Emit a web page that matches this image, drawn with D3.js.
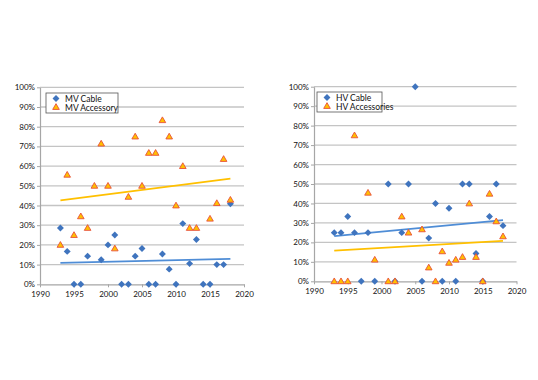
<!DOCTYPE html>
<html>
<head>
    <title>Cable failures</title>
    <script src="https://d3js.org/d3.v7.min.js"></script>
    <style>
        body { margin: 0; background: #fff; }
        text { font-family: Lato, "Open Sans", sans-serif; fill: #111; }
    </style>
</head>
<body>
<svg width="538" height="380"></svg>
<script>
    // one value per year, null where there is no point
    const years = [1993, 1994, 1995, 1996, 1997, 1998, 1999, 2000, 2001, 2002, 2003, 2004, 2005,
                   2006, 2007, 2008, 2009, 2010, 2011, 2012, 2013, 2014, 2015, 2016, 2017, 2018];

    const mvCable = [28.6, 16.7, 0, 0, 14.3, null, 12.5, 20, 25, 0, 0, 14.3, 18.2,
                     0, 0, 15.4, 7.7, 0, 30.8, 10.5, 22.7, 0, 0, 10, 10, 40.9];
    const mvAccessory = [20, 55.6, 25, 34.5, 28.6, 50, 71.4, 50, 18.2, null, 44.4, 75, 50,
                         66.7, 66.7, 83.3, 75, 40, 60, 28.6, 28.6, null, 33.3, 41.2, 63.6, 42.9];

    const hvCable = [25, 25, 33.3, 25, 0, 25, 0, null, 50, 0, 25, 50, 100,
                     0, 22.2, 40, 0, 37.5, 0, 50, 50, 14.3, 0, 33.3, 50, 28.6];
    const hvAccessories = [0, 0, 0, 75, null, 45.5, 11.1, null, 0, 0, 33.3, 25, null,
                           26.7, 7.1, 0, 15.4, 9.5, 11.1, 12.5, 40, 12.5, 0, 45, 30.8, 23.1];

    const xTicks = [1990, 1995, 2000, 2005, 2010, 2015, 2020];
    const yTicks = [0, 0.1, 0.2, 0.3, 0.4, 0.5, 0.6, 0.7, 0.8, 0.9, 1];

    const blue = "#3F74BE";
    const blueLine = "#4F8DD6";
    const orange = "#FFC000";
    const orangeEdge = "#E8503A";
    const orangeLine = "#FFC000";

    const svg = d3.select("svg");

    function points(vals) {
        return years.map((y, i) => ({year: y, v: vals[i]}))
            .filter(d => d.v !== null)
            .map(d => ({year: d.year, v: d.v / 100}));
    }

    // least squares fit, drawn over the range of the data like Excel does
    function trend(pts) {
        const mx = d3.mean(pts, d => d.year), my = d3.mean(pts, d => d.v);
        const b = d3.sum(pts, d => (d.year - mx) * (d.v - my)) / d3.sum(pts, d => (d.year - mx) ** 2);
        const a = my - b * mx;
        const x0 = d3.min(pts, d => d.year), x1 = d3.max(pts, d => d.year);
        return [{year: x0, v: a + b * x0}, {year: x1, v: a + b * x1}];
    }

    function drawChart(opt) {
        const x = d3.scaleLinear().domain([1990, 2020]).range(opt.xr);
        const y = d3.scaleLinear().domain([0, 1]).range(opt.yr);
        const g = svg.append("g");

        // gridlines
        g.selectAll(".grid").data(yTicks.slice(1)).enter().append("line")
            .attr("x1", opt.xr[0]).attr("x2", opt.xr[1])
            .attr("y1", d => y(d)).attr("y2", d => y(d))
            .attr("stroke", "#C4C4C4").attr("stroke-width", 1.3);

        const xAxis = g.append("g").attr("transform", `translate(0,${opt.yr[0]})`)
            .call(d3.axisBottom(x).tickValues(xTicks).tickFormat(d3.format("d")).tickSize(3).tickSizeOuter(0));
        const yAxis = g.append("g").attr("transform", `translate(${opt.xr[0]},0)`)
            .call(d3.axisLeft(y).tickValues(yTicks).tickFormat(d3.format(".0%")).tickSize(3).tickSizeOuter(0));
        [xAxis, yAxis].forEach(ax => {
            ax.select(".domain").attr("stroke", "#A6A6A6").attr("stroke-width", 1.2);
            ax.selectAll(".tick line").attr("stroke", "#A6A6A6");
            ax.selectAll("text").style("font-size", "8px").attr("fill", "#111");
        });
        xAxis.selectAll("text").attr("dy", "0.9em");
        yAxis.selectAll("text").attr("x", -5);

        const cable = points(opt.cable), acc = points(opt.acc);

        const line = d3.line().x(d => x(d.year)).y(d => y(d.v));
        g.append("path").attr("d", line(trend(cable))).attr("fill", "none")
            .attr("stroke", blueLine).attr("stroke-width", 1.8);
        g.append("path").attr("d", line(trend(acc))).attr("fill", "none")
            .attr("stroke", orangeLine).attr("stroke-width", 1.8);

        const diamond = d3.symbol().type(d3.symbolSquare).size(24);
        const tri = d3.symbol().type(d3.symbolTriangle).size(19);

        g.selectAll(".c").data(cable).enter().append("path")
            .attr("d", diamond)
            .attr("transform", d => `translate(${x(d.year)},${y(d.v)}) rotate(45)`)
            .attr("fill", blue);
        g.selectAll(".a").data(acc).enter().append("path")
            .attr("d", tri)
            .attr("transform", d => `translate(${x(d.year)},${y(d.v) + 0.5})`)
            .attr("fill", orange).attr("stroke", orangeEdge).attr("stroke-width", 0.9);

        // legend
        const lg = g.append("g").attr("transform", `translate(${opt.legend[0]},${opt.legend[1]})`);
        lg.append("rect").attr("width", opt.legendW).attr("height", 20)
            .attr("fill", "#fff").attr("stroke", "#555").attr("stroke-width", 0.8);
        lg.append("path").attr("d", diamond).attr("transform", "translate(10,5.5) rotate(45)").attr("fill", blue);
        lg.append("path").attr("d", tri).attr("transform", "translate(10,14.5)")
            .attr("fill", orange).attr("stroke", orangeEdge).attr("stroke-width", 0.9);
        lg.append("text").attr("x", 19).attr("y", 8.5).style("font-size", "8.5px").text(opt.names[0]);
        lg.append("text").attr("x", 19).attr("y", 17.5).style("font-size", "8.5px").text(opt.names[1]);
    }

    drawChart({xr: [40, 244], yr: [284.3, 87.3], cable: mvCable, acc: mvAccessory,
               legend: [46, 93], legendW: 72, names: ["MV Cable", "MV Accessory"]});
    drawChart({xr: [314, 516.5], yr: [281.3, 86.7], cable: hvCable, acc: hvAccessories,
               legend: [317, 92], legendW: 65, names: ["HV Cable", "HV Accessories"]});
</script>
</body>
</html>
